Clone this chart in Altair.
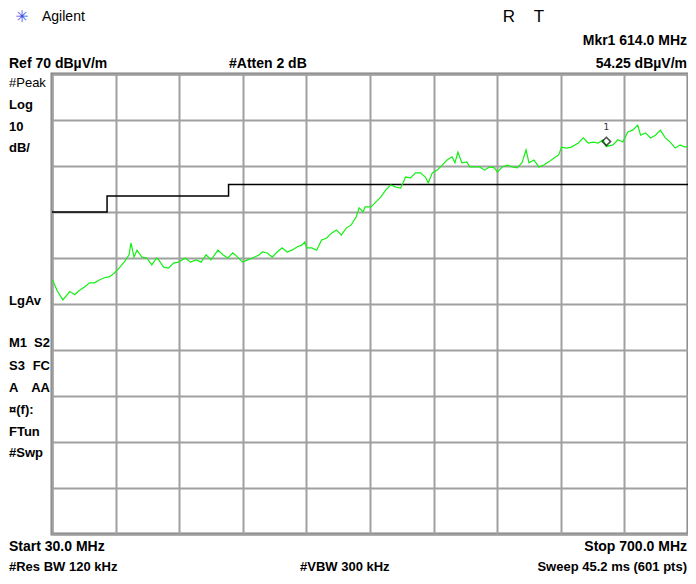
import altair as alt
import pandas as pd

# ---- data ----
freq_mhz = [30.7, 35.2, 41.4, 48.7, 53.9, 59.1, 64.3, 69.5, 74.7, 79.9, 85.1, 90.3, 95.5, 100.7,
            106.0, 111.2, 113.2, 116.4, 119.5, 124.7, 129.9, 135.1, 140.3, 142.4, 147.6, 152.8,
            158.0, 163.2, 170.5, 175.7, 181.9, 187.1, 192.3, 197.5, 204.8, 210.0, 215.2, 220.4,
            225.6, 230.8, 236.0, 241.2, 248.5, 251.6, 256.8, 262.0, 267.2, 272.4, 277.6, 282.8,
            288.0, 293.2, 296.3, 298.4, 303.6, 308.8, 314.0, 319.2, 324.4, 329.6, 334.8, 340.0,
            345.2, 350.4, 353.6, 357.7, 359.8, 366.1, 371.3, 376.5, 381.7, 386.9, 392.1, 397.3,
            402.5, 407.7, 412.9, 418.1, 423.3, 426.4, 430.6, 435.8, 441.0, 446.2, 451.5, 454.5,
            457.6, 461.8, 467.0, 470.1, 475.3, 480.5, 485.7, 490.9, 496.1, 499.2, 504.4, 509.6,
            514.8, 520.0, 525.2, 529.4, 532.5, 537.7, 542.9, 548.1, 553.3, 558.5, 563.7, 566.8,
            572.0, 577.2, 584.5, 589.7, 594.9, 600.1, 605.3, 610.5, 614.0, 620.9, 626.1, 631.4,
            636.6, 641.8, 647.0, 650.1, 655.3, 660.5, 665.7, 670.9, 676.1, 681.3, 686.5, 691.7,
            696.9, 700.0]
level_dbuv = [25.2, 23.0, 20.9, 22.7, 22.0, 23.0, 23.7, 24.6, 24.6, 25.2, 25.7, 25.9, 26.7, 27.8,
              29.1, 30.7, 33.3, 30.2, 31.7, 30.2, 30.0, 28.5, 30.0, 29.6, 28.0, 27.8,
              28.9, 29.1, 30.0, 29.1, 29.6, 29.1, 30.7, 29.6, 31.7, 30.7, 30.0, 31.1,
              30.2, 29.1, 29.6, 30.0, 30.7, 31.3, 31.1, 30.2, 31.3, 32.2, 31.3, 31.7,
              32.4, 32.8, 33.5, 32.2, 32.2, 31.7, 33.9, 34.3, 35.4, 36.1, 35.0, 36.5,
              37.2, 38.9, 40.9, 40.0, 41.1, 41.1, 42.2, 43.3, 44.8, 45.9, 45.4, 45.2,
              47.6, 47.4, 48.5, 48.5, 47.6, 46.3, 48.5, 49.1, 50.2, 51.3, 52.0, 50.7,
              53.0, 50.7, 50.9, 49.8, 49.8, 49.8, 49.1, 49.8, 49.6, 48.7, 49.8, 50.2,
              49.8, 49.6, 50.7, 53.5, 50.7, 51.3, 49.8, 50.2, 50.9, 51.7, 52.4, 54.1,
              53.9, 54.1, 55.0, 56.1, 55.0, 55.2, 55.0, 55.7, 54.25, 54.6, 55.7, 55.2,
              57.4, 57.8, 58.9, 56.7, 57.2, 56.1, 56.7, 57.8, 56.1, 55.2, 53.9, 54.6,
              54.1, 54.3]

limit_freq = [30, 88, 88, 216, 216, 700]
limit_level = [40, 40, 43.5, 43.5, 46, 46]

marker_freq = [614.0]
marker_level = [54.25]

x_grid = [30 + 67 * i for i in range(11)]
y_grid = list(range(-30, 71, 10))

trace = pd.DataFrame({"f": freq_mhz, "l": level_dbuv, "i": list(range(len(freq_mhz)))})
limit = pd.DataFrame({"f": limit_freq, "l": limit_level, "i": list(range(len(limit_freq)))})
marker = pd.DataFrame({"f": marker_freq, "l": marker_level})

X0, Y0 = 52, 74  # page position of plot origin

xs = alt.Scale(domain=[30, 700], nice=False, zero=False)
ys = alt.Scale(domain=[-30, 70], nice=False, zero=False)
xax = alt.Axis(values=x_grid, grid=True, labels=False, ticks=False, domain=False, title=None,
               gridColor="#a0a0a0", gridWidth=2, gridOpacity=1)
yax = alt.Axis(values=y_grid, grid=True, labels=False, ticks=False, domain=False, title=None,
               gridColor="#a0a0a0", gridWidth=2, gridOpacity=1)

base_grid = alt.Chart(trace).mark_line(opacity=0).encode(
    x=alt.X("f:Q", scale=xs, axis=xax), y=alt.Y("l:Q", scale=ys, axis=yax))

limit_line = alt.Chart(limit).mark_line(color="black", strokeWidth=1.5).encode(
    x=alt.X("f:Q", scale=xs), y=alt.Y("l:Q", scale=ys), order="i:O")

trace_line = alt.Chart(trace).mark_line(color="#14f014", strokeWidth=1.2).encode(
    x=alt.X("f:Q", scale=xs), y=alt.Y("l:Q", scale=ys), order="i:O")

mk = alt.Chart(marker).mark_point(shape="diamond", filled=False, color="black", size=70,
                                  strokeWidth=1.6, yOffset=-5).encode(
    x=alt.X("f:Q", scale=xs), y=alt.Y("l:Q", scale=ys))
mk_label = alt.Chart(marker).mark_text(text="1", fontSize=9, color="#333", yOffset=-19,
                                       font="DejaVu Sans").encode(
    x=alt.X("f:Q", scale=xs), y=alt.Y("l:Q", scale=ys))


def label(text, px, py, align="left", bold=True, size=14, color="black", font="Liberation Sans"):
    return alt.Chart(pd.DataFrame({"t": [text]})).mark_text(
        align=align, baseline="middle", fontSize=size, font=font,
        fontWeight="bold" if bold else "normal", color=color
    ).encode(text="t:N", x=alt.value(px - X0), y=alt.value(py - Y0))


labels = [
    label("✳", 22, 17, align="center", bold=False, size=16, color="#3a4fe0", font="DejaVu Sans"),
    label("Agilent", 42, 17, bold=False, size=14),
    label("R", 509, 17, align="center", bold=False, size=17),
    label("T", 539, 17, align="center", bold=False, size=17),
    label("Mkr1  614.0 MHz", 687, 41, align="right"),
    label("54.25 dBµV/m", 687, 64, align="right"),
    label("Ref 70 dBµV/m", 9, 64),
    label("#Atten 2 dB", 229, 64),
    label("#Peak", 9, 83, bold=False, size=13),
    label("Log", 9, 105, size=13),
    label("10", 9, 127, size=13),
    label("dB/", 9, 148, size=13),
    label("LgAv", 9, 301, size=13),
    label("M1", 9, 343, size=13), label("S2", 50, 343, align="right", size=13),
    label("S3", 9, 366, size=13), label("FC", 50, 366, align="right", size=13),
    label("A", 9, 388, size=13), label("AA", 50, 388, align="right", size=13),
    label("¤(f):", 9, 410, size=13),
    label("FTun", 9, 432, size=13),
    label("#Swp", 9, 453, size=13),
    label("Start 30.0 MHz", 9, 547),
    label("Stop 700.0 MHz", 687, 547, align="right"),
    label("#Res BW 120 kHz", 9, 567, size=13),
    label("#VBW 300 kHz", 300, 567, size=13),
    label("Sweep 45.2 ms (601 pts)", 687, 567, align="right", size=13),
]

chart = alt.layer(base_grid, limit_line, trace_line, mk, mk_label, *labels).properties(
    width=636, height=460,
    autosize=alt.AutoSizeParams(type="none"),
    padding={"left": 44, "top": 66, "right": 0, "bottom": 42},
    background="white",
).configure_view(stroke="#808080", strokeWidth=3)

chart.save("out.html", embed_options={"renderer": "svg", "actions": False})
